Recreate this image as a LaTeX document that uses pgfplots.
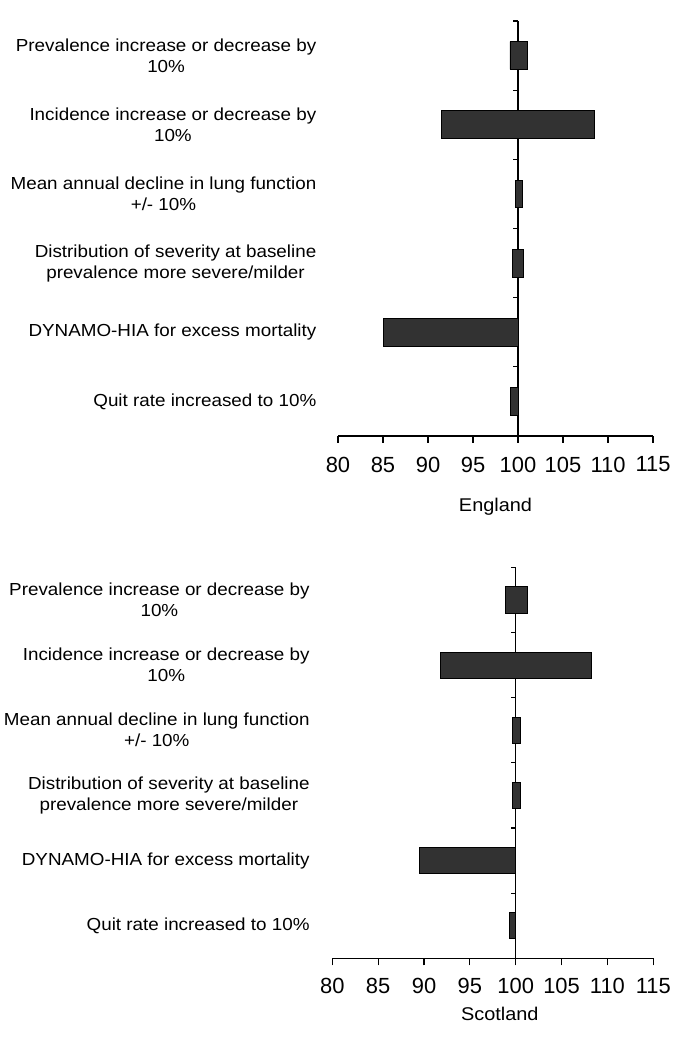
\documentclass[border=0pt]{standalone}
\usepackage{pgfplots}
\pgfplotsset{compat=1.18}
\usepackage{pgfplotstable}
\usepackage{fontspec}
\setmainfont{Liberation Sans}
\newfontfamily\labfont[FakeStretch=1.08]{Liberation Sans}
\definecolor{barfill}{RGB}{50,50,50}

% y: category position (0.5 = bottom, 5.5 = top); low/high ends of each bar
\pgfplotstableread{
y   low    high
5.5 99.1   101.0
4.5 91.5   108.5
3.5 99.7   100.5
2.5 99.35  100.6
1.5 85.0   100.0
0.5 99.2   100.0
}\england

\pgfplotstableread{
y   low    high
5.5 98.9   101.3
4.5 91.8   108.2
3.5 99.6   100.5
2.5 99.6   100.5
1.5 89.5   100.0
0.5 99.3   100.0
}\scotland

\pgfplotsset{
  tornado/.style={
    scale only axis,
    xbar stacked,
    bar width=0.4,
    xmin=80, xmax=115, ymin=0, ymax=6,
    enlargelimits=false,
    clip=false,
    axis x line=bottom,
    axis y line=left,
    x axis line style={-, line width=1.1bp, black},
    y axis line style={draw=none},
    xtick={80,85,...,115},
    xtick align=outside,
    major tick length=7bp,
    xtick style={line width=1.1bp, black},
    ytick={0.5,1.5,...,5.5},
    ytick style={draw=none},
    yticklabels={
      {Quit rate increased to 10\%},
      {DYNAMO-HIA for excess mortality},
      {Distribution of severity at baseline\\prevalence more severe/milder},
      {Mean annual decline in lung function\\+/- 10\%},
      {Incidence increase or decrease by\\10\%},
      {Prevalence increase or decrease by\\10\%}},
    yticklabel style={font=\labfont\fontsize{17.5}{21}\selectfont, align=center, anchor=east, inner sep=0pt},
    xticklabel style={font=\fontsize{22}{26}\selectfont, inner sep=0pt, anchor=north},
    /pgf/number format/assume math mode=true,
    xlabel style={font=\labfont\fontsize{18.5}{21}\selectfont, at={(axis description cs:0.5,0)}, anchor=north, inner sep=0pt},
  },
}

\begin{document}
\begin{tikzpicture}[x=1bp,y=1bp]
\useasboundingbox (0,0) rectangle (685,1045);

% England
\begin{axis}[tornado,
  at={(338bp,609bp)}, anchor=south west,
  width=315bp, height=415bp,
  yticklabel style={xshift=-18bp},
  xticklabel style={yshift=-13.7bp},
  xlabel={England},
  xlabel style={yshift=-61.7bp},
]
\addplot[draw=none, fill=none] table[x=low, y=y]{\england};
\addplot[fill=barfill, draw=black, line width=0.8bp] table[x expr=\thisrow{high}-\thisrow{low}, y=y]{\england};
\draw[line width=1.1bp] (axis cs:100,0) -- (axis cs:100,6);
\pgfplotsinvokeforeach{1,...,6}{
  \draw[line width=1.1bp] (axis cs:100,#1) -- ([xshift=-5bp]axis cs:100,#1);
}
\end{axis}

% Scotland
\begin{axis}[tornado,
  at={(332.3bp,86.7bp)}, anchor=south west,
  width=321bp, height=391bp,
  yticklabel style={xshift=-19bp},
  xticklabel style={yshift=-13bp},
  xlabel={Scotland},
  xlabel style={xshift=7bp, yshift=-48.7bp},
]
\addplot[draw=none, fill=none] table[x=low, y=y]{\scotland};
\addplot[fill=barfill, draw=black, line width=0.8bp] table[x expr=\thisrow{high}-\thisrow{low}, y=y]{\scotland};
\draw[line width=1.1bp] (axis cs:100,0) -- (axis cs:100,6);
\pgfplotsinvokeforeach{1,...,6}{
  \draw[line width=1.1bp] (axis cs:100,#1) -- ([xshift=-5bp]axis cs:100,#1);
}
\end{axis}
\end{tikzpicture}
\end{document}
